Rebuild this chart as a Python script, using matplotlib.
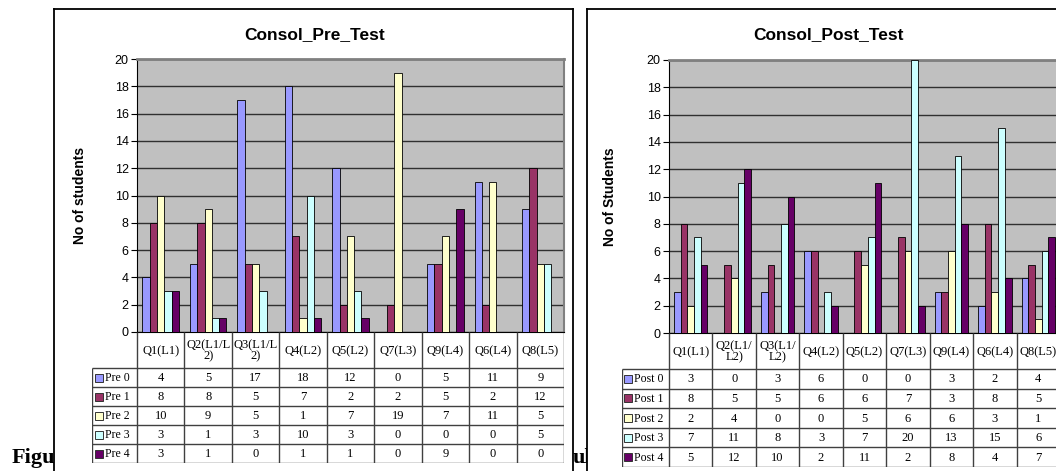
import numpy as np
import matplotlib
matplotlib.use("Agg")
import matplotlib.pyplot as plt

# Table / axis data
cats_pre = ['Q1(L1)', 'Q2(L1/L\n2)', 'Q3(L1/L\n2)', 'Q4(L2)', 'Q5(L2)',
            'Q7(L3)', 'Q9(L4)', 'Q6(L4)', 'Q8(L5)']
cats_post = ['Q1(L1)', 'Q2(L1/\nL2)', 'Q3(L1/\nL2)', 'Q4(L2)', 'Q5(L2)',
             'Q7(L3)', 'Q9(L4)', 'Q6(L4)', 'Q8(L5)']

pre_names = ['Pre 0', 'Pre 1', 'Pre 2', 'Pre 3', 'Pre 4']
pre0 = [4, 5, 17, 18, 12, 0, 5, 11, 9]
pre1 = [8, 8, 5, 7, 2, 2, 5, 2, 12]
pre2 = [10, 9, 5, 1, 7, 19, 7, 11, 5]
pre3 = [3, 1, 3, 10, 3, 0, 0, 0, 5]
pre4 = [3, 1, 0, 1, 1, 0, 9, 0, 0]

post_names = ['Post 0', 'Post 1', 'Post 2', 'Post 3', 'Post 4']
post0 = [3, 0, 3, 6, 0, 0, 3, 2, 4]
post1 = [8, 5, 5, 6, 6, 7, 3, 8, 5]
post2 = [2, 4, 0, 0, 5, 6, 6, 3, 1]
post3 = [7, 11, 8, 3, 7, 20, 13, 15, 6]
post4 = [5, 12, 10, 2, 11, 2, 8, 4, 7]

colors = ['#9999FF', '#993366', '#FFFFCC', '#CCFFFF', '#660066']

W, H = 1056, 471
SANS = 'Liberation Sans'
SERIF = 'Liberation Serif'


def box(x0, y0, x1, y1):
    # pixel box -> figure fraction rect
    return [x0 / W, 1 - y1 / H, (x1 - x0) / W, (y1 - y0) / H]


def chart(fig, frame, plot, leg_left, tab_bottom, title, title_x, ylabel,
          ylab_x, cats, names, series):
    # outer white chart frame
    fr = fig.add_axes(box(*frame), zorder=0)
    fr.set_facecolor('white')
    fr.set_xticks([])
    fr.set_yticks([])
    for s in fr.spines.values():
        s.set_color('black')
        s.set_linewidth(1.3)

    px0, py0, px1, py1 = plot
    n = len(cats)

    # plot area
    ax = fig.add_axes(box(px0, py0, px1, py1), zorder=1)
    ax.set_facecolor('#C0C0C0')
    bw = 1 / 6.5
    x = np.arange(n)
    for k, vals in enumerate(series):
        ax.bar(x + 0.75 * bw + (k + 0.5) * bw, vals, width=bw,
               color=colors[k], edgecolor='black', linewidth=0.6, zorder=3)
    ax.set_xlim(0, n)
    ax.set_ylim(0, 20)
    ax.set_yticks(range(0, 21, 2))
    ax.set_xticks([])
    ax.yaxis.grid(True, color='#303030', linewidth=1)
    ax.set_axisbelow(True)
    ax.tick_params(axis='y', length=4, width=0.8, pad=2, labelsize=9)
    for lab in ax.get_yticklabels():
        lab.set_fontfamily(SANS)
    ax.spines['left'].set_color('black')
    ax.spines['bottom'].set_color('black')
    ax.spines['top'].set_color('#808080')
    ax.spines['top'].set_linewidth(2)
    ax.spines['right'].set_color('#808080')
    ax.spines['right'].set_linewidth(1.5)

    # title and y label
    fig.text(title_x / W, 1 - 35 / H, title, ha='center', va='center',
             fontsize=12.5, fontweight='bold', family=SANS)
    fig.text(ylab_x / W, 1 - (py0 + py1) / 2 / H, ylabel, rotation=90,
             ha='center', va='center', fontsize=10, fontweight='bold',
             family=SANS)

    # data table under the plot
    cw = (px1 - px0) / n
    lw = (px0 - leg_left) / cw
    tb = fig.add_axes(box(leg_left, py1, px1, tab_bottom), zorder=1)
    tb.set_axis_off()
    hdr = 36
    rh = (tab_bottom - py1 - hdr) / len(names)
    bottom = hdr + rh * len(names)
    tb.set_xlim(-lw, n)
    tb.set_ylim(bottom, 0)
    lc = '#404040'
    tb.vlines(np.arange(n + 1), 0, bottom, color=lc, linewidth=1)
    tb.vlines(-lw, hdr, bottom, color=lc, linewidth=1)
    tb.hlines(hdr + rh * np.arange(len(names) + 1), -lw, n, color=lc,
              linewidth=1)
    for i, c in enumerate(cats):
        tb.text(i + 0.5, hdr / 2 + 1, c, ha='center', va='center',
                fontsize=9, family=SERIF, linespacing=0.9)
    for k, (nm, vals) in enumerate(zip(names, series)):
        yc = hdr + (k + 0.5) * rh
        tb.plot(-lw + 0.14, yc, 's', ms=5.5, color=colors[k],
                markeredgecolor='#333333', markeredgewidth=0.7)
        tb.text(-lw + 0.28, yc + 0.5, nm, ha='left', va='center',
                fontsize=8.5, family=SERIF)
        for i, v in enumerate(vals):
            tb.text(i + 0.5, yc + 0.5, str(v), ha='center', va='center',
                    fontsize=9, family=SERIF)


fig = plt.figure(figsize=(W / 100, H / 100), dpi=100)

# caption text partly hidden behind the charts
fig.text(12 / W, 1 - 463 / H, 'Figure', fontsize=16, fontweight='bold',
         family=SERIF, zorder=-1)
fig.text(573 / W, 1 - 463 / H, 'ul', fontsize=16, fontweight='bold',
         family=SERIF, zorder=-1)

chart(fig, (54, 9, 573, 480), (137, 59, 564, 332), 92, 463,
      'Consol_Pre_Test', 315, 'No of students', 80,
      cats_pre, pre_names, [pre0, pre1, pre2, pre3, pre4])
chart(fig, (587, 9, 1075, 480), (669, 60, 1060, 333), 622, 467,
      'Consol_Post_Test', 829, 'No of Students', 610,
      cats_post, post_names, [post0, post1, post2, post3, post4])

fig.savefig('out.png', dpi=100)
